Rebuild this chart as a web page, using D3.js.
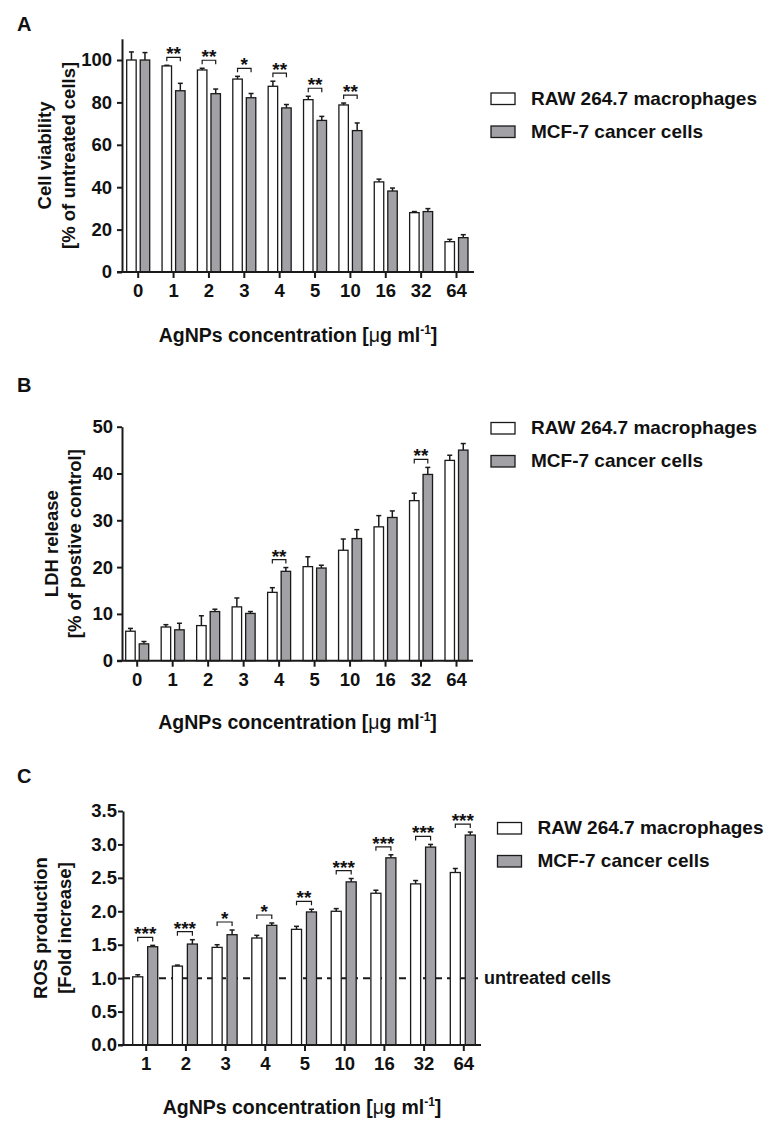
<!DOCTYPE html>
<html><head><meta charset="utf-8">
<script src="https://cdn.jsdelivr.net/npm/d3@7"></script>
<style>
html,body{margin:0;padding:0;background:#fff;}
svg text{font-family:"Liberation Sans",Arial,sans-serif;font-weight:bold;fill:#111;}
</style></head>
<body>
<svg id="chart" width="774" height="1127"></svg>
<script>
// ---------- DATA ----------
const series = ["RAW 264.7 macrophages", "MCF-7 cancer cells"];
const concAB = ["0","1","2","3","4","5","10","16","32","64"];
const concC = ["1","2","3","4","5","10","16","32","64"];

const viabRaw    = [100, 97.2, 95.3, 91.0, 87.6, 81.3, 78.8, 42.5, 28.0, 14.3];
const viabRawErr = [3.8, 0.3, 0.8, 1.3, 2.4, 1.6, 0.9, 1.3, 0.5, 1.1];
const viabMcf    = [100, 85.5, 84.1, 82.2, 77.4, 71.5, 66.7, 38.2, 28.5, 16.2];
const viabMcfErr = [3.5, 3.5, 2.2, 2.0, 1.6, 1.9, 3.6, 1.4, 1.4, 1.4];
const viabSig    = ["", "**", "**", "*", "**", "**", "**", "", "", ""];

const ldhRaw    = [6.3, 7.2, 7.5, 11.5, 14.6, 20.1, 23.6, 28.6, 34.2, 42.8];
const ldhRawErr = [0.6, 0.5, 2.1, 1.9, 1.0, 2.1, 2.4, 2.4, 1.6, 1.1];
const ldhMcf    = [3.6, 6.6, 10.5, 10.1, 19.1, 19.8, 26.1, 30.6, 39.8, 45.0];
const ldhMcfErr = [0.5, 1.4, 0.5, 0.4, 0.8, 0.6, 1.9, 1.4, 1.5, 1.4];
const ldhSig    = ["", "", "", "", "**", "", "", "", "**", ""];

const rosRaw    = [1.02, 1.18, 1.46, 1.60, 1.73, 2.00, 2.27, 2.41, 2.58];
const rosRawErr = [0.03, 0.015, 0.04, 0.04, 0.045, 0.04, 0.045, 0.05, 0.06];
const rosMcf    = [1.47, 1.51, 1.65, 1.79, 1.99, 2.44, 2.80, 2.96, 3.14];
const rosMcfErr = [0.02, 0.065, 0.07, 0.035, 0.04, 0.05, 0.045, 0.04, 0.045];
const rosSig    = ["***", "***", "*", "*", "**", "***", "***", "***", "***"];

const yTicksA = [0, 20, 40, 60, 80, 100];
const yTicksB = [0, 10, 20, 30, 40, 50];
const yTicksC = [0, 0.5, 1.0, 1.5, 2.0, 2.5, 3.0, 3.5];

const yTitleA = ["Cell viability", "[% of untreated cells]"];
const yTitleB = ["LDH release", "[% of postive control]"];
const yTitleC = ["ROS production", "[Fold increase]"];
const baselineLabel = "untreated cells";
const baselineValue = 1.0;

// ---------- DRAW ----------
const svg = d3.select("#chart");
const fills = ["#ffffff", "#a2a2a6"];
const strokeCol = "#1a1a1a";

function panel(p) {
  const g = svg.append("g");
  const y = d3.scaleLinear().domain(p.yDomain).range([p.y0, p.y1]);
  const x = d3.scalePoint().domain(p.cats).range([p.xFirst, p.xLast]);
  const sub = d3.scaleBand().domain(series).range(p.subRange).paddingInner(p.subPad);
  const bw = sub.bandwidth();

  g.append("text").attr("x", 17).attr("y", p.letterY).attr("font-size", 20).text(p.letter);

  if (p.baseline) {
    g.append("line").attr("x1", p.axisX).attr("x2", p.xEnd - 1)
      .attr("y1", y(baselineValue)).attr("y2", y(baselineValue))
      .attr("stroke", strokeCol).attr("stroke-width", 2).attr("stroke-dasharray", "7,5");
    g.append("text").attr("x", p.xEnd + 3).attr("y", y(baselineValue) + 6)
      .attr("font-size", 18).text(baselineLabel);
  }

  const rows = p.cats.map((c, i) => ({
    c, i,
    vals: [p.raw[i], p.mcf[i]],
    errs: [p.rawErr[i], p.mcfErr[i]],
    sig: p.sig[i]
  }));

  rows.forEach(r => {
    series.forEach((s, k) => {
      const bx = x(r.c) + sub(s);
      const top = y(r.vals[k]);
      const etop = y(r.vals[k] + r.errs[k]);
      const cx = bx + bw / 2;
      g.append("line").attr("x1", cx).attr("x2", cx).attr("y1", top).attr("y2", etop)
        .attr("stroke", strokeCol).attr("stroke-width", 1.5);
      g.append("line").attr("x1", cx - 2.5).attr("x2", cx + 2.5).attr("y1", etop).attr("y2", etop)
        .attr("stroke", strokeCol).attr("stroke-width", 1.5);
      g.append("rect").attr("x", bx).attr("y", top).attr("width", bw).attr("height", y(0) - top)
        .attr("fill", fills[k]).attr("stroke", strokeCol).attr("stroke-width", 1.3);
    });
    if (r.sig) {
      const topMax = Math.min(y(r.vals[0] + r.errs[0]), y(r.vals[1] + r.errs[1]));
      const by = topMax - 8;
      const xa = x(r.c) + sub(series[0]) + bw / 2;
      const xb = x(r.c) + sub(series[1]) + bw / 2;
      g.append("path").attr("d", `M${xa},${by + 4}V${by}H${xb}V${by + 4}`)
        .attr("fill", "none").attr("stroke", strokeCol).attr("stroke-width", 1.2);
      g.append("text").attr("x", (xa + xb) / 2).attr("y", by + 3)
        .attr("text-anchor", "middle").attr("font-size", 19).text(r.sig);
    }
  });

  const ya = d3.axisLeft(y).tickValues(p.yTicks).tickSize(5).tickPadding(p.tickPad)
    .tickSizeOuter(0).tickFormat(p.fmt);
  const yg = g.append("g").attr("transform", `translate(${p.axisX},0)`).call(ya);
  yg.select(".domain").attr("stroke", strokeCol).attr("stroke-width", 2);
  yg.selectAll(".tick line").attr("stroke", strokeCol).attr("stroke-width", 2);
  yg.selectAll(".tick text").attr("font-size", 18.5).attr("font-family", null).attr("fill", "#111");

  const xa = d3.axisBottom(x).tickSize(6).tickPadding(6).tickSizeOuter(0);
  const xg = g.append("g").attr("transform", `translate(0,${y(0)})`).call(xa);
  xg.select(".domain").remove();
  xg.selectAll(".tick line").attr("stroke", strokeCol).attr("stroke-width", 2);
  xg.selectAll(".tick text").attr("font-size", 18.5).attr("font-family", null).attr("fill", "#111");
  g.append("line").attr("x1", p.axisX - 5).attr("x2", p.xEnd).attr("y1", y(0)).attr("y2", y(0))
    .attr("stroke", strokeCol).attr("stroke-width", 2);

  const xt = g.append("text").attr("x", (p.axisX + p.xEnd) / 2).attr("y", p.xTitleY)
    .attr("text-anchor", "middle").attr("font-size", 19.5);
  xt.append("tspan").text("AgNPs concentration [");
  xt.append("tspan").attr("font-weight", "normal").text("\u03bc");
  xt.append("tspan").text("g ml");
  xt.append("tspan").attr("font-size", 12).attr("dy", -8).text("-1");
  xt.append("tspan").attr("dy", 8).text("]");

  const cy = (p.y0 + p.y1) / 2;
  p.yTitle.forEach((t, k) => {
    g.append("text").attr("transform", `translate(${p.yTitleX[k]},${cy}) rotate(-90)`)
      .attr("text-anchor", "middle").attr("font-size", 18.5).text(t);
  });

  series.forEach((s, k) => {
    const ly = p.legY + k * 33;
    g.append("rect").attr("x", p.legX).attr("y", ly - 11.5).attr("width", 24).attr("height", 11.5)
      .attr("fill", fills[k]).attr("stroke", strokeCol).attr("stroke-width", 1.3);
    g.append("text").attr("x", p.legX + 40).attr("y", ly).attr("font-size", 19).text(s);
  });
}

panel({
  letter: "A", letterY: 31, cats: concAB,
  raw: viabRaw, rawErr: viabRawErr, mcf: viabMcf, mcfErr: viabMcfErr, sig: viabSig,
  yDomain: [0, 110], y0: 272, y1: 38.8, yTicks: yTicksA, fmt: d3.format("d"), tickPad: 5,
  axisX: 122, xEnd: 474, xFirst: 137.7, xLast: 456,
  subRange: [-11, 12], subPad: 0.3,
  xTitleY: 342, yTitle: yTitleA, yTitleX: [51, 74.5],
  legX: 491, legY: 104.5
});

panel({
  letter: "B", letterY: 392, cats: concAB,
  raw: ldhRaw, rawErr: ldhRawErr, mcf: ldhMcf, mcfErr: ldhMcfErr, sig: ldhSig,
  yDomain: [0, 50], y0: 660.7, y1: 426.7, yTicks: yTicksB, fmt: d3.format("d"), tickPad: 4,
  axisX: 122, xEnd: 473, xFirst: 136.7, xLast: 456,
  subRange: [-11, 12], subPad: 0.3,
  xTitleY: 729, yTitle: yTitleB, yTitleX: [58, 80.5],
  legX: 491, legY: 434
});

panel({
  letter: "C", letterY: 783, cats: concC,
  raw: rosRaw, rawErr: rosRawErr, mcf: rosMcf, mcfErr: rosMcfErr, sig: rosSig,
  yDomain: [0, 3.5], y0: 1045, y1: 811, yTicks: yTicksC, fmt: d3.format(".1f"), tickPad: 1,
  axisX: 123, xEnd: 481, xFirst: 145.7, xLast: 463.3,
  subRange: [-13, 12], subPad: 0.33, baseline: true,
  xTitleY: 1113.5, yTitle: yTitleC, yTitleX: [46.5, 71],
  legX: 497.5, legY: 834
});
</script>
</body></html>
